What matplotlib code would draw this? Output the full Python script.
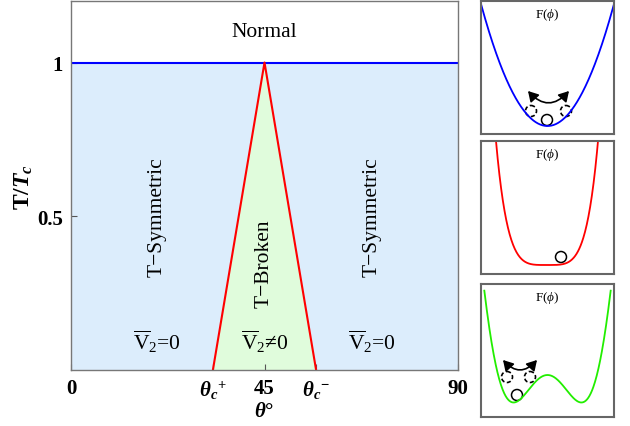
import numpy as np
import matplotlib
matplotlib.use("Agg")
from matplotlib import pyplot as plt
from matplotlib.patches import Circle, FancyArrowPatch

plt.rcParams["font.family"] = ["Liberation Serif", "DejaVu Serif"]
plt.rcParams["mathtext.fontset"] = "custom"
plt.rcParams["mathtext.rm"] = "Liberation Serif"
plt.rcParams["mathtext.it"] = "Liberation Serif:italic"
plt.rcParams["mathtext.bf"] = "Liberation Serif:bold"
plt.rcParams["mathtext.bfit"] = "Liberation Serif:bold:italic"

# phase diagram
theta_c_plus = 33
theta_c_minus = 57
theta_peak = 45
t_max = 1.0
x_ticks = [0, theta_c_plus, 45, theta_c_minus, 90]
x_tick_labels = ["0", r"$\mathbfit{\theta_c}^{\mathbf{+}}$", "45",
                 r"$\mathbfit{\theta_c}^{\mathbf{-}}$", "90"]
y_ticks = [0.5, 1]
y_tick_labels = ["0.5", "1"]

blue_fill = "#dcedfc"
green_fill = "#e0fcdc"

# inset panels (figure pixels: left, right, top, bottom)
panels = [(481, 614, 2, 135), (481, 614, 142, 275), (481, 614, 285, 418)]
# solid balls / dashed balls / arrows, figure pixels
solid_balls = [(547, 121), (561, 258), (517, 396)]
dashed_balls = [[(531, 112), (566, 112)], [], [(507, 378), (530, 378)]]
arrows = [((528, 92), (569, 92)), None, ((503, 361), (537, 361))]

W, H = 630, 427
fig = plt.figure(figsize=(W / 100, H / 100), dpi=100)

ax = fig.add_axes([71 / W, (H - 371) / H, 387 / W, 369 / H])
ax.set_xlim(0, 90)
ax.set_ylim(0, 1.2)
ax.fill_between([0, 90], 0, t_max, color=blue_fill, lw=0)
ax.fill([theta_c_plus, theta_peak, theta_c_minus], [0, t_max, 0],
        color=green_fill, lw=0)
ax.plot([0, 90], [t_max, t_max], color="blue", lw=1.5)
ax.plot([theta_c_plus, theta_peak, theta_c_minus], [0, t_max, 0],
        color="red", lw=1.5)

ax.set_xticks(x_ticks)
ax.set_xticklabels(x_tick_labels, fontsize=15, fontweight="bold")
ax.set_yticks(y_ticks)
ax.set_yticklabels(y_tick_labels, fontsize=15, fontweight="bold")
ax.tick_params(direction="in", length=4, color="#555555", pad=6)
for s in ax.spines.values():
    s.set_color("#777777")
    s.set_linewidth(1.0)
ax.set_xlabel(r"$\mathbfit{\theta}$°", fontsize=15, fontweight="bold", labelpad=0)
ax.set_ylabel(r"$\mathbf{T/}\mathbfit{T_c}$", fontsize=17)
ax.yaxis.set_label_coords(-36 / 387, 0.5)

fs = 15.5
ax.text(45, 1.1, "Normal", ha="center", va="center", fontsize=fs)
ax.text(20, 0.5, "T\u2212Symmetric", ha="center", va="center", fontsize=fs, rotation=90)
ax.text(70, 0.5, "T\u2212Symmetric", ha="center", va="center", fontsize=fs, rotation=90)
ax.text(45, 0.35, "T\u2212Broken", ha="center", va="center", fontsize=fs, rotation=90)
ax.text(20, 0.094, r"$\overline{\mathrm{V}}_2$=0", ha="center", va="center", fontsize=fs)
ax.text(45, 0.094, r"$\overline{\mathrm{V}}_2$≠0", ha="center", va="center", fontsize=fs)
ax.text(70, 0.094, r"$\overline{\mathrm{V}}_2$=0", ha="center", va="center", fontsize=fs)

# potential shapes, in pixel units relative to each panel
curve_colors = ["blue", "red", "#22ee00"]


def potential(i, x0, x1, y0, y1):
    cx = (x0 + x1) / 2
    hw = (x1 - x0) / 2
    if i == 0:
        u = np.linspace(-1, 1, 300)
        ymin = 127
        return cx + u * hw, ymin - (ymin - y0 - 3) * u ** 2
    if i == 1:
        u = np.linspace(-1, 1, 300)
        ymin = 266
        return 547 + u * 51, ymin - (ymin - y0) * (0.7 * u ** 4 + 0.3 * u ** 6)
    u = np.linspace(-0.95, 0.95, 300)
    q = u ** 2
    A, B, C = -221.7, 485.1, -150.6
    return cx + u * hw, 376 - (A * q + B * q ** 2 + C * q ** 3)


for i, (x0, x1, y0, y1) in enumerate(panels):
    iax = fig.add_axes([x0 / W, (H - y1) / H, (x1 - x0) / W, (y1 - y0) / H])
    iax.set_xlim(x0, x1)
    iax.set_ylim(y1, y0)
    iax.set_xticks([])
    iax.set_yticks([])
    for s in iax.spines.values():
        s.set_color("#666666")
        s.set_linewidth(1.5)
    px, py = potential(i, x0, x1, y0, y1)
    iax.plot(px, py, color=curve_colors[i], lw=1.3, clip_on=True)
    iax.text((x0 + x1) / 2, y0 + 13, r"F($\phi$)", ha="center", va="center", fontsize=9.5)
    bx, by = solid_balls[i]
    iax.add_patch(Circle((bx, by), 5.5, fill=False, ec="black", lw=1.1))
    for dx, dy in dashed_balls[i]:
        iax.add_patch(Circle((dx, dy), 5.5, fill=False, ec="black", lw=1.2, ls=(0, (2.5, 1.5))))
    if arrows[i] is not None:
        a, b = arrows[i]
        iax.add_patch(FancyArrowPatch(a, b, arrowstyle="<|-|>,head_length=0.6,head_width=0.35",
                                      mutation_scale=10, shrinkA=0, shrinkB=0,
                                      connectionstyle="arc3,rad=0.55", color="black", lw=1.2))

fig.savefig("out.png", dpi=100)
